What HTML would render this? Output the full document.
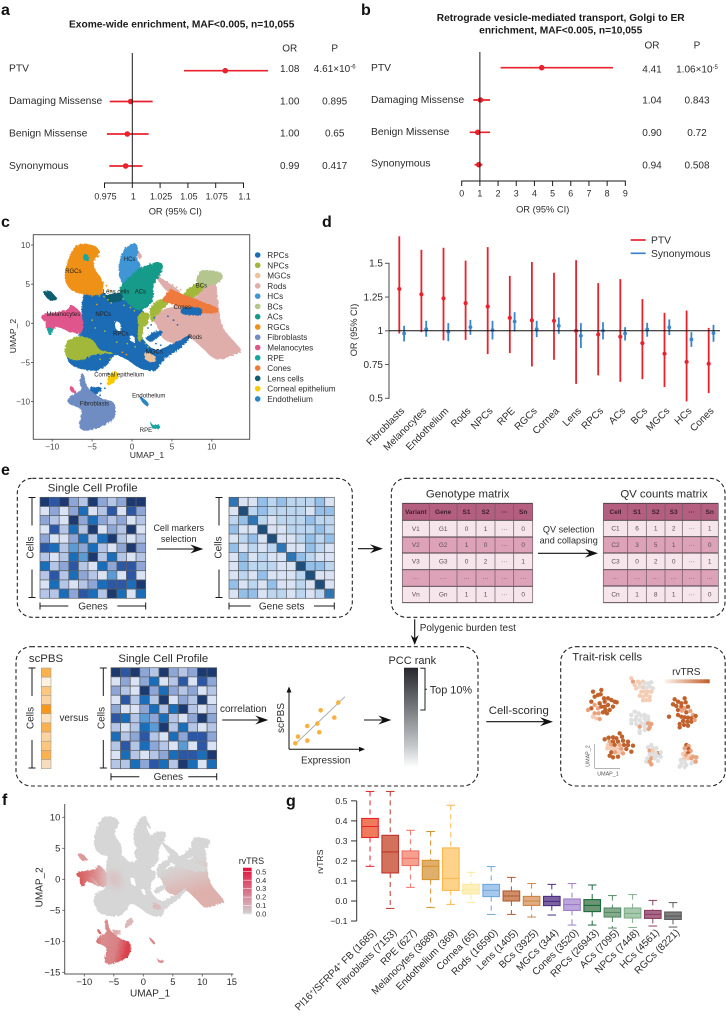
<!DOCTYPE html>
<html lang="en">
<head>
<meta charset="utf-8">
<title>Rare variant enrichment figure</title>
<style>
html,body{margin:0;padding:0;background:#fff;width:726px;height:1019px;overflow:hidden}
svg{display:block}
text{font-family:"Liberation Sans",Arial,sans-serif;fill:#2b2b2b}
.pl{font-size:16px;font-weight:700;fill:#111}
.ti{font-size:10.2px;font-weight:700;fill:#1a1a1a}
</style>
</head>
<body>
<svg id="fig" xmlns="http://www.w3.org/2000/svg" width="726" height="1019" viewBox="0 0 726 1019">
  <defs>
    <filter id="rough" x="-5%" y="-5%" width="110%" height="110%">
      <feTurbulence type="fractalNoise" baseFrequency="0.45" numOctaves="2" seed="4" result="n"/>
      <feDisplacementMap in="SourceGraphic" in2="n" scale="3.2"/>
    </filter>
    <filter id="soft" x="-30%" y="-30%" width="160%" height="160%">
      <feGaussianBlur stdDeviation="3.5"/>
    </filter>
    <linearGradient id="pccGrad" x1="0" y1="0" x2="0" y2="1">
      <stop offset="0" stop-color="#26272c"/><stop offset="0.35" stop-color="#6b6e72"/>
      <stop offset="0.78" stop-color="#c3c7ca"/><stop offset="1" stop-color="#ffffff"/>
    </linearGradient>
    <linearGradient id="rvGrad" x1="0" y1="0" x2="1" y2="0">
      <stop offset="0" stop-color="#fdf4ec"/><stop offset="1" stop-color="#bf5e29"/>
    </linearGradient>
    <linearGradient id="cbarGrad" x1="0" y1="0" x2="0" y2="1">
      <stop offset="0" stop-color="#e0103c"/><stop offset="1" stop-color="#d3d3d3"/>
    </linearGradient>
    <linearGradient id="rodsGrad" x1="0" y1="0" x2="0.35" y2="1">
      <stop offset="0.35" stop-color="#d6d6d6"/><stop offset="0.85" stop-color="#deb0ac"/>
    </linearGradient>
    <linearGradient id="fibGrad" x1="0" y1="0" x2="1" y2="0.3">
      <stop offset="0" stop-color="#d8585c"/><stop offset="0.3" stop-color="#d98d8e"/>
      <stop offset="0.7" stop-color="#d88184"/><stop offset="1" stop-color="#db3f4c"/>
    </linearGradient>
    <linearGradient id="melGrad" x1="0" y1="0" x2="1" y2="0">
      <stop offset="0" stop-color="#d8585a"/><stop offset="0.55" stop-color="#dc8484"/><stop offset="1" stop-color="#dcc0c0"/>
    </linearGradient>
  </defs>

  <rect x="0" y="0" width="726" height="1019" fill="#fff"/>

  <g>
    <text class="pl" x="1" y="15">a</text>
    <text class="pl" x="361" y="15">b</text>
    <text class="pl" x="1" y="227">c</text>
    <text class="pl" x="322" y="227">d</text>
    <text class="pl" x="1" y="475">e</text>
    <text class="pl" x="2" y="805">f</text>
    <text class="pl" x="286" y="806">g</text>
  </g>

  <g id="panelA">
    <text class="ti" x="181.7" y="27.7" text-anchor="middle">Exome-wide enrichment, MAF&lt;0.005, n=10,055</text>
  </g>
  <g id="panelB">
    <text class="ti" x="560.7" y="21" text-anchor="middle">Retrograde vesicle-mediated transport, Golgi to ER</text>
    <text class="ti" x="560.7" y="33.5" text-anchor="middle">enrichment, MAF&lt;0.005, n=10,055</text>
  </g>
  <g id="panelC"></g>
  <g id="panelD"></g>
  <g id="panelE"></g>
  <g id="panelF"></g>
  <g id="panelG"></g>
</svg>

<script>
/* ---------- panel a / b data ---------- */
const forestCategories = ['PTV', 'Damaging Missense', 'Benign Missense', 'Synonymous'];
const aMid = [1.0836, 0.9985, 0.9955, 0.994];
const aLow = [1.0465, 0.9797, 0.9772, 0.9793];
const aHigh = [1.122, 1.0183, 1.0147, 1.0091];
const aOR = ['1.08', '1.00', '1.00', '0.99'];
const aP = ['4.61×10', '0.895', '0.65', '0.417'];
const aPExp = ['-6', '', '', ''];
const aTicks = [0.975, 1, 1.025, 1.05, 1.075, 1.1];
const aTickLabels = ['0.975', '1', '1.025', '1.05', '1.075', '1.1'];
const bMid = [4.40, 1.03, 0.88, 0.94];
const bLow = [2.14, 0.64, 0.44, 0.71];
const bHigh = [8.32, 1.56, 1.56, 1.14];
const bOR = ['4.41', '1.04', '0.90', '0.94'];
const bP = ['1.06×10', '0.843', '0.72', '0.508'];
const bPExp = ['-5', '', '', ''];
const bTicks = [0, 1, 2, 3, 4, 5, 6, 7, 8, 9];
const bTickLabels = ['0', '1', '2', '3', '4', '5', '6', '7', '8', '9'];

/* ---------- panel c / f UMAP hulls (UMAP data units) ---------- */
const hullRods = [[8.9,4.5],[10.4,5.1],[10.8,2.3],[11.4,-0.6],[13.5,-3.2],[13.3,-3.8],[10.6,-4.55],[8.9,-3.2],[7.3,-1.9],[5.6,-2.55],[3.9,-1.9],[3.1,-0.2],[2.5,0.85],[3.9,1.7],[5.6,2.3],[8.1,3.4]];
const hullRodsThin = [[3.1,6.0],[3.9,5.6],[6.0,4.0],[4.5,4.1],[3.5,5.2]];
const hullRodsHc = [[0.7,9.3],[1.2,8.6],[1.0,8.2],[0.6,8.8]];
const hullRpc = [[-5.9,3.8],[-3.6,3.8],[-2.3,2.8],[-0.5,3.0],[1.4,1.5],[1.0,-0.2],[1.4,-2.1],[3.1,-3.4],[5.6,-2.4],[7.3,-1.5],[6.2,-3.0],[3.9,-4.7],[2.9,-6.0],[1.0,-5.7],[-0.5,-4.7],[-2.1,-4.0],[-3.0,-5.1],[-4.4,-6.0],[-6.7,-5.7],[-8.0,-4.7],[-7.6,-2.8],[-6.7,-1.7],[-6.3,-0.6],[-6.3,1.3]];
const hullRpcIsland = [[1.8,-1.9],[2.7,-1.15],[3.7,-1.0],[3.5,-1.5],[2.5,-2.3]];
const hullRpcCones = [[6.4,1.9],[8.5,1.9],[8.5,1.1],[6.4,1.2]];
const hullRpcFib = [[-5.2,-8.2],[-3.8,-8.3],[-4.4,-9.0],[-5.0,-9.0]];
const hullNpcLow = [[-8.4,-3.6],[-8.0,-2.3],[-6.7,-1.7],[-5.05,-2.1],[-4.0,-3.4],[-2.5,-3.8],[-4.85,-4.0],[-6.5,-4.7],[-8.0,-4.4]];
const hullNpcMid = [[0.8,1.1],[2.0,1.3],[2.0,0.2],[1.4,-0.6],[1.2,-2.1],[0.8,-2.1],[0.8,-0.2]];
const hullNpcRight = [[2.3,1.9],[3.5,3.0],[4.8,3.0],[3.9,1.9],[3.1,1.1],[2.5,0.2]];
const hullNpcBc = [[6.4,3.6],[8.1,5.1],[9.0,4.5],[7.5,3.2]];
const hullRgc = [[-6.7,10.0],[-5.05,10.0],[-4.2,9.4],[-4.2,8.7],[-4.8,7.9],[-4.6,6.8],[-3.8,5.5],[-3.8,3.8],[-5.9,3.7],[-7.6,4.3],[-8.3,5.5],[-8.2,7.2],[-7.6,8.9]];
const hullHc = [[-1.5,7.9],[-0.9,9.4],[0.2,10.2],[0.7,9.6],[0.6,8.3],[1.0,7.0],[-0.9,5.1],[-1.6,6.2]];
const hullAc = [[1.0,7.0],[2.9,7.7],[3.8,7.5],[3.5,6.2],[2.7,4.9],[2.5,2.8],[1.0,1.7],[-0.5,2.6],[-1.5,4.0],[-0.9,5.3]];
const hullBc = [[8.1,5.3],[8.7,6.7],[10.6,6.6],[11.3,6.2],[11,5.3],[9.8,4.9],[8.9,4.5]];
const hullCones = [[3.9,3],[4.8,4.25],[6,3.8],[8.1,3],[10.7,1.9],[10.2,1.3],[8.1,1.4],[5.6,2.3],[4.3,2.7]];
const hullMel = [[-11.1,1.05],[-8.2,1.7],[-7.6,2.3],[-6.3,1.05],[-6.3,-1.05],[-7.6,-1.05],[-8.6,0.2],[-10.3,0.2],[-11.1,0.4]];
const hullMelLow = [[-10.7,0.2],[-8.6,0.2],[-7.6,-1.15],[-9.4,-0.4],[-10.3,-1.3]];
const hullMelFib = [[-7.8,-8.1],[-7.4,-8.2],[-7.1,-8.9],[-7.6,-8.7]];
const hullLensTop = [[-11,4.0],[-10.3,4.1],[-9.6,3.4],[-9.4,3.1],[-10.3,3],[-10.9,3.6]];
const hullLensMid = [[-3.2,3.6],[-1.5,3.8],[-1.3,3],[-2.75,2.7]];
const hullMgc = [[1.8,-3.8],[2.9,-4.25],[2.9,-4.8],[2.3,-4.9],[1.6,-4.5]];
const hullCorneal = [[-3,-7],[-2.1,-6.2],[-1.7,-6.8],[-2.1,-7.3],[-3,-7.9]];
const hullFib = [[-6.4,-6.6],[-6.1,-6.6],[-5.5,-8.3],[-3.8,-9.6],[-2.3,-10.2],[-2.3,-12.1],[-4,-13.2],[-5.9,-13.7],[-6.6,-13],[-6.3,-11.1],[-7.9,-10.2],[-7.7,-9.4],[-6.3,-8.5],[-6.5,-7.7]];
const hullEndo = [[1.0,-9.4],[1.4,-9.6],[2.0,-10.2],[1.8,-10.5],[1.2,-9.9]];
const hullRpe = [[2.3,-12.6],[2.6,-13],[3.4,-13.0],[3.3,-13.4],[2.6,-13.4]];
const hullRpeMel = [[-10.5,-0.6],[-10.0,-0.7],[-10.1,-1.4],[-10.4,-1.4]];
const hullRpeRgc = [[-6.0,8.7],[-5.5,8.7],[-5.5,8.1],[-6.0,8.1]];
const hullHoleA = [[-2.1,0.2],[-1.5,0],[-1.4,-1.05],[-2.0,-0.7]];
const hullHoleB = [[-0.2,-1.6],[0.3,-1.8],[0.3,-2.4],[-0.2,-2.2]];
const clusterNames = ['RPCs','NPCs','MGCs','Rods','HCs','BCs','ACs','RGCs','Fibroblasts','Melanocytes','RPE','Cones','Lens cells','Corneal epithelium','Endothelium'];
const clusterColors = ['#1a6cb5','#a2b83b','#ecc39f','#dfaeab','#3f95d4','#b4c58d','#189a8a','#ef9119','#6f8dc3','#e0568c','#16a5a0','#ee7a3d','#0e5d70','#f8cb05','#2a86c5'];
const labelNames = ['HCs','RGCs','Lens cells','ACs','BCs','Cones','Melanocytes','NPCs','RPCs','Rods','MGCs','Corneal epithelium','Endothelium','Fibroblasts','RPE'];
const labelU = [-0.3,-7.35,-2,1.05,8.7,6.3,-8.6,-3.6,-1.4,7.9,2.8,-1.6,2.1,-4.7,1.75];
const labelV = [8.2,6.7,4.05,4.05,4.8,2.05,1.2,1.2,-1.3,-1.75,-3.6,-6.55,-9.2,-10.25,-13.6];
const cTicksU = [-10,-5,0,5,10];
const cTicksV = [10,5,0,-5,-10];
const speckOliveU = [-4.6,-4.1,-3.5,-3.0,-2.6,-1.0,-0.2,0.3,-5.0,-4.6,-3.4,-1.9,-0.6,0.4,-4.0,-2.7,1.7,2.0];
const speckOliveV = [3.9,3.5,3.4,3.0,2.6,2.3,2.0,1.6,0.4,-0.6,-1.0,-2.4,-2.6,-3.0,-4.6,-4.5,-2.6,-3.0];
const speckBlueU = [2.0,2.4,3.0,3.6,4.1,1.6,2.2,-3.9,-3.4,-4.6,-4.0,4.5,5.2,5.7,2.8,-3.0];
const speckBlueV = [-0.6,-0.2,-2.6,-2.8,-3.3,-2.8,-3.5,-7.7,-8.3,-8.9,-9.2,0.9,0.4,-0.2,0.7,-6.4];
const speckOrangeU = [-4.2,-3.6,-3.2,-3.0,-2.6,-5.5,-5.0,-4.4,-1.2,-0.7];
const speckOrangeV = [5.6,5.2,4.8,4.3,4.1,5.0,3.5,2.4,-3.7,-4.0];
const speckPinkU = [3.4,3.9,4.4,5.1,5.6,6.1];
const speckPinkV = [6.0,5.5,5.3,4.9,4.6,4.3];

/* ---------- panel d data ---------- */
const dCategories = ['Fibroblasts','Melanocytes','Endothelium','Rods','NPCs','RPE','RGCs','Cornea','Lens','RPCs','ACs','BCs','MGCs','HCs','Cones'];
const ptvHigh = [1.70,1.60,1.615,1.52,1.62,1.407,1.51,1.43,1.523,1.353,1.383,1.235,1.133,1.15,1.022];
const ptvLow = [0.98,0.99,0.93,0.933,0.827,0.835,0.736,0.785,0.607,0.67,0.622,0.642,0.583,0.477,0.538];
const ptvMid = [1.31,1.27,1.24,1.205,1.18,1.096,1.077,1.074,1.0,0.973,0.956,0.909,0.83,0.77,0.756];
const synHigh = [1.037,1.074,1.057,1.081,1.074,1.138,1.074,1.099,1.057,1.064,1.027,1.059,1.084,0.99,1.044];
const synLow = [0.921,0.956,0.923,0.97,0.936,0.995,0.953,0.978,0.872,0.936,0.928,0.956,0.968,0.881,0.919];
const synMid = [0.98,1.012,0.993,1.027,1.005,1.069,1.012,1.037,0.963,1.0,0.98,1.01,1.025,0.936,0.983];
const dTicks = [0.5,0.75,1,1.25,1.5];
const dTickLabels = ['0.5','0.75','1','1.25','1.5'];

/* ---------- panel e data ---------- */
const profileRows = ['DBDMLDMLMDD','PMPMCPLBPBM','MLPDMCMLMPL','PBLCLDPMLDP','MPPMCLCDLPL','BCLSMCLPMDM','LPLCSDLCLPL','CLMBLPCMBBM','LBLCMLPSPBP','PCLPLMCBBCD','LLCMBCLDCPC'];
const geneSetRows = ['ePPrqrqqqrP','PdqrqqqqPrr','qreqPqqqrqq','rPPdPPqqqrq','PqrPdPPqrqr','rPqPqePPrqP','PrPqPPerqPP','PrqqqPPdrrq','PqPrPPPqdPP','rPqPrPPqPdP','PrrPqqPqPqe'];
const scpbsShades = ['#f9b24d','#fff2df','#fbc77f','#fbd3a0','#f8971b','#fde2c2','#f9b24d','#fbd3a0','#fbc77f','#f9b24d','#f6dcbd'];
const genotypeHeader = ['Variant','Gene','S1','S2','···','Sn'];
const genotypeRows = [['V1','G1','0','1','···','0'],['V2','G2','1','0','···','0'],['V3','G3','0','2','···','1'],['···','···','···','···','···','···'],['Vn','Gn','1','1','···','0']];
const qvHeader = ['Cell','S1','S2','S3','···','Sn'];
const qvRows = [['C1','6','1','2','···','1'],['C2','3','5','1','···','0'],['C3','0','2','0','···','1'],['···','···','···','···','···','···'],['Cn','1','8','1','···','0']];
const expressionValues = [6.3,9,18.3,18.3,28.3,30.3,31.7,45.3,49.3];
const scpbsValues = [6,12.7,8.7,23.3,25.7,17,39,31.7,46.7];
const traitPoints = [
[-1,18,3],[-2,17.5,2],[-1,20,3],[0,21.5,3],[-0.5,23,3],[1,22,3],[2,23.5,3],[1.8,22.2,3],[2.8,21,3],[4,21,3],[5,20.5,3],[6,20,3],[6.6,19.8,3],[3,20,3],[1.5,19.5,3],[0,19,2],[1,18,2],[2,18.5,3],[3,18.5,3],[4,19,3],[4.5,17.5,3],[3.2,17.5,3],[2.5,16.8,3],[3.7,16.5,3],[5.5,18.5,3],[1.2,16.5,2],[0,16.5,2],[-0.5,15.5,1],[0.5,15,1],[1.5,14.8,2],
[11,27,1],[11.5,26,2],[12,25,1],[13,26,1],[13.5,25.5,1],[14.5,26,1],[15,25.5,0],[16,25.5,0],[17,25.8,0],[12.5,24,1],[13.5,24.5,0],[14.5,24.3,1],[15.5,24.2,0],[16.5,24.5,0],[17.5,24,0],[14,23,1],[15,23,1],[16,23,1],[17,23,1],[13.5,21.8,1],[14.5,21.5,1],[15.5,22,1],[16.5,21.5,1],[14.5,20.4,1],[15.5,20.5,1],[16.5,20.5,1],
[27,21,3],[24,20.7,3],[25,20,3],[26,19.5,3],[27.3,19.8,3],[23.5,19.2,3],[24.5,18.7,3],[26,18.5,3],[27,18,2],[28,18.5,3],[25,17.5,3],[26.2,17.3,2],[27.5,16.8,3],[28.7,17.2,2],[29.5,16,2],[30.3,15.7,3],[25,16,3],[26,15.5,3],[27,15.3,3],[28,15.2,3],[29,15,3],[22.3,15.5,3],[26.5,14.2,3],[27.8,14,3],[29,14,3],[30,14.5,2],[25.5,13.3,3],[26.8,13,3],[28,12.8,3],[25.5,12.3,3],
[12,17,0],[13.2,16.5,0],[11,16,0],[12.5,15.5,0],[14,15.8,0],[15,16,0],[16,15.5,0],[11,14.5,0],[12.2,14.5,0],[13.5,14.5,0],[15,14.8,0],[16.2,14.4,0],[11,13.5,0],[12.5,13.3,0],[14,13.5,0],[15.2,13.5,0],[16,13.5,2],[17,13.3,2],[13.5,12.5,2],[15,12.5,0],[16.5,12.3,2],[13.5,11.2,0],[15,11.5,0],[16.2,11.8,2],[13.5,10.6,0],
[7.5,10.5,3],[8.2,9.5,3],[6.5,9,3],[5.5,9.3,3],[4.2,9.2,3],[3,8.7,3],[4.5,8,2],[5.5,8,3],[7,8,3],[8.5,8.3,3],[10,8,3],[4,7,1],[5,7,2],[6,7,3],[7.5,7,2],[8.8,7,3],[10,7,3],[11.5,6.8,3],[3.8,6,1],[5,6,1],[6,5.8,1],[7,6,1],[8,5.8,2],[9.5,5.8,3],[11,5,3],[5,4.8,3],[6.2,4.8,2],[7.5,4.8,1],[4.5,3.8,3],[5.5,3.3,3],[7,3.5,3],[8.5,4.5,2],
[17,7,0],[16,6.3,0],[17.5,6,0],[18.5,6,0],[16.5,5.3,2],[17.5,5.2,1],[19,4.5,3],[18.3,4.6,0],[19.8,4.8,0],[16.5,4.2,0],[17.5,4,0],[18.8,3.7,0],[19.8,3.5,0],[15.8,3,0],[17,3,2],[18,3,0],[15.5,2,0],[16.5,2,2],[19,2.2,0],[17,1.2,2],
[27.5,7,3],[28.2,6.7,2],[27,6,2],[28.2,5.8,3],[28.8,5.2,2],[27.3,5,1],[28,4.5,3],[26.5,4.3,1],[27.5,3.8,2],[28.5,3.8,1],[29.5,3.5,2],[26.8,3,1],[28,3,1],[29,3,2],[30.5,3.3,2],[25.8,2.5,0],[27,2,0],[29.8,2,0],[30.3,2,2],[26,1.3,0],[27.5,1,0],[29,1.5,0],[25.5,0.5,0],[27,0.4,0]];

/* ---------- panel f data ---------- */
const fTicksU = [-10,-5,0,5,10,15];
const fTicksV = [10,5,0,-5,-10,-15];
const colorbarLabels = ['0.5','0.4','0.3','0.2','0.1','0.0'];
const colorbarValues = [0.5,0.4,0.3,0.2,0.1,0.0];
const hullPinkZone = [[-6.0,1.2],[-4.0,1.0],[-3.8,-1.4],[-5.0,-1.2],[-6.0,-1.0]];

/* ---------- panel g data ---------- */
const gCategories = ['FB','Fibroblasts (7153)','RPE (627)','Melanocytes (3689)','Endothelium (369)','Cornea (65)','Rods (16590)','Lens (1405)','BCs (3925)','MGCs (344)','Cones (3520)','RPCs (26943)','ACs (7095)','NPCs (7448)','HCs (4561)','RGCs (8221)'];
const gWhiskerHigh = [0.547,0.547,0.353,0.347,0.478,0.143,0.172,0.118,0.087,0.083,0.087,0.08,0.027,0.032,0.003,-0.008];
const gQ3 = [0.412,0.328,0.25,0.203,0.265,0.083,0.083,0.05,0.023,0.023,0.01,0.007,-0.035,-0.035,-0.047,-0.055];
const gMedian = [0.372,0.245,0.213,0.173,0.113,0.057,0.053,0.025,0,-0.002,-0.018,-0.022,-0.057,-0.062,-0.067,-0.075];
const gQ1 = [0.317,0.14,0.177,0.107,0.053,0.035,0.022,0,-0.022,-0.023,-0.047,-0.053,-0.08,-0.085,-0.087,-0.092];
const gWhiskerLow = [0.173,-0.037,0.068,-0.033,-0.017,-0.007,-0.067,-0.067,-0.08,-0.07,-0.12,-0.12,-0.135,-0.132,-0.125,-0.13];
const gStroke = ['#e8202a','#c0352c','#f07167','#d9922e','#fcb648','#fbe9a0','#6fa8dc','#b5592a','#d08240','#4b2e83','#9a7cc8','#1a6a3e','#4f8a64','#7fae8a','#8c3f5e','#58585a'];
const gFill = ['#f07a5c','#d2725d','#f6a090','#deb06b','#fdd38c','#fdf0bc','#a6c8ec','#cf8d6a','#e0ad82','#7a619f','#bda6dc','#6b9573','#85ab8c','#a8c9ad','#a8688a','#7f7f7f'];
const gTicks = [0.5,0.4,0.3,0.2,0.1,0,-0.1];
const gTickLabels = ['0.5','0.4','0.3','0.2','0.1','0.0','−0.1'];

/* ---------- helpers ---------- */
const NS = 'http://www.w3.org/2000/svg';
function mk(tag, attrs, parent, txt) {
  const el = document.createElementNS(NS, tag);
  for (const k in attrs) el.setAttribute(k, attrs[k]);
  if (txt !== undefined) el.textContent = txt;
  parent.appendChild(el);
  return el;
}
function smoothPath(hull, xf, yf) {
  const p = hull.map(q => [xf(q[0]), yf(q[1])]);
  const n = p.length;
  let d = 'M' + p[0][0].toFixed(2) + ' ' + p[0][1].toFixed(2);
  for (let i = 0; i < n; i++) {
    const p0 = p[(i - 1 + n) % n], p1 = p[i], p2 = p[(i + 1) % n], p3 = p[(i + 2) % n];
    const c1x = p1[0] + (p2[0] - p0[0]) / 6, c1y = p1[1] + (p2[1] - p0[1]) / 6;
    const c2x = p2[0] - (p3[0] - p1[0]) / 6, c2y = p2[1] - (p3[1] - p1[1]) / 6;
    d += 'C' + c1x.toFixed(2) + ' ' + c1y.toFixed(2) + ' ' + c2x.toFixed(2) + ' ' + c2y.toFixed(2) + ' ' + p2[0].toFixed(2) + ' ' + p2[1].toFixed(2);
  }
  return d + 'Z';
}
const RED = '#e8232e';
const BLUE = '#3a86c8';

/* ---------- forest plots ---------- */
function forest(g, cfg) {
  const x = cfg.x;
  cfg.rowsY.forEach((y, i) => {
    const bar = mk('line', {x1: x(cfg.low[i]), x2: x(cfg.high[i]), y1: y, y2: y, stroke: RED, 'stroke-width': 1.7}, g);
    
    
    const pt = mk('circle', {cx: x(cfg.mid[i]), cy: y, r: 2.8, fill: RED}, g);
    
    
    const lab = mk('text', {x: cfg.labelX, y: cfg.labelY[i], 'font-size': 10.3}, g, forestCategories[i]);
    
    
    const or = mk('text', {x: cfg.orX, y: cfg.valY[i], 'font-size': 10, 'text-anchor': 'middle'}, g, cfg.or[i]);
    
    
    const p = mk('text', {x: cfg.pX, y: cfg.valY[i], 'font-size': 10, 'text-anchor': 'middle'}, g, cfg.p[i]);
    
    
    if (cfg.exp[i]) {
      mk('tspan', {dy: -3.5, 'font-size': 6}, p, cfg.exp[i]);
    }
  });
  const vline = mk('line', {x1: x(1), x2: x(1), y1: cfg.top, y2: cfg.axisY, stroke: '#1a1a1a', 'stroke-width': 1}, g);
  
  
  const ax = mk('line', {x1: x(cfg.ticks[0]) - 0.5, x2: x(cfg.ticks[cfg.ticks.length - 1]) + 0.5, y1: cfg.axisY, y2: cfg.axisY, stroke: '#1a1a1a', 'stroke-width': 1}, g);
  
  
  cfg.ticks.forEach((t, i) => {
    const tk = mk('line', {x1: x(t), x2: x(t), y1: cfg.axisY, y2: cfg.axisY + 5, stroke: '#1a1a1a', 'stroke-width': 1}, g);
    
    
    const tl = mk('text', {x: x(t) + cfg.tickShift, y: cfg.tickY, 'font-size': 8.9, 'text-anchor': 'middle'}, g, cfg.tickLabels[i]);
    
    
  });
  const t = mk('text', {x: cfg.titleX, y: cfg.titleY, 'font-size': 9.3, 'text-anchor': 'middle'}, g, 'OR (95% CI)');
  
  
  const h1 = mk('text', {x: cfg.orX, y: cfg.headY, 'font-size': 10, 'text-anchor': 'middle'}, g, 'OR');
  
  
  const h2 = mk('text', {x: cfg.pX, y: cfg.headY, 'font-size': 10, 'text-anchor': 'middle'}, g, 'P');
  
  
}
forest(document.getElementById('panelA'), {
  x: v => 132.3 + (v - 1) * 1112, low: aLow, mid: aMid, high: aHigh, or: aOR, p: aP, exp: aPExp,
  ticks: aTicks, tickLabels: aTickLabels, rowsY: [70.7, 101.5, 134, 166], labelX: 9, labelY: [71.7, 104, 136.7, 169],
  valY: [72, 104.3, 136.7, 169], orX: 289.7, pX: 334.7, headY: 51.7, top: 53, axisY: 183, tickShift: 1, tickY: 199.3,
  titleX: 175.3, titleY: 214.3
});
forest(document.getElementById('panelB'), {
  x: v => 461.7 + v * 18.18, low: bLow, mid: bMid, high: bHigh, or: bOR, p: bP, exp: bPExp,
  ticks: bTicks, tickLabels: bTickLabels, rowsY: [67.7, 100, 132.3, 164.7], labelX: 371, labelY: [71, 103, 135, 166.7],
  valY: [72.7, 103.7, 136, 168.3], orX: 652, pX: 697, headY: 48.3, top: 52, axisY: 181, tickShift: 0, tickY: 196.3,
  titleX: 542.7, titleY: 212.3
});

/* ---------- panel c ---------- */
(function () {
  const g = document.getElementById('panelC');
  const xc = u => 132 + 7.98 * u;
  const yc = v => 323.3 - 7.83 * v;
  const c = {};
  clusterNames.forEach((n, i) => { c[n] = clusterColors[i]; });
  const layers = [
    [hullRods, 'Rods'], [hullRodsThin, 'Rods'], [hullRodsHc, 'Rods'], [hullRpc, 'RPCs'], [hullRpcIsland, 'RPCs'], [hullRpcFib, 'RPCs'],
    [hullNpcLow, 'NPCs'], [hullRgc, 'RGCs'], [hullHc, 'HCs'], [hullAc, 'ACs'], [hullBc, 'BCs'],
    [hullNpcMid, 'NPCs'], [hullNpcRight, 'NPCs'], [hullNpcBc, 'NPCs'], [hullCones, 'Cones'], [hullRpcCones, 'RPCs'],
    [hullMel, 'Melanocytes'], [hullMelLow, 'Melanocytes'], [hullMelFib, 'Melanocytes'], [hullMgc, 'MGCs'], [hullLensTop, 'Lens cells'], [hullLensMid, 'Lens cells'],
    [hullCorneal, 'Corneal epithelium'], [hullFib, 'Fibroblasts'], [hullEndo, 'Endothelium'], [hullRpe, 'RPE'], [hullRpeMel, 'RPE'], [hullRpeRgc, 'RPE']
  ];
  const cloud = mk('g', {filter: 'url(#rough)'}, g);
  
  
  layers.forEach(l => {
    const p = mk('path', {d: smoothPath(l[0], xc, yc), fill: c[l[1]], stroke: c[l[1]], 'stroke-width': 0.6, 'stroke-linejoin': 'round'}, cloud);
    
    
  });
  [hullHoleA, hullHoleB].forEach(h => {
    const p = mk('path', {d: smoothPath(h, xc, yc), fill: '#fff'}, cloud);
    
    
  });
  [[speckOliveU, speckOliveV, 'NPCs'], [speckBlueU, speckBlueV, 'RPCs'], [speckOrangeU, speckOrangeV, 'RGCs'], [speckPinkU, speckPinkV, 'Rods']].forEach(s => {
    s[0].forEach((u, i) => {
      const d = mk('circle', {cx: xc(u), cy: yc(s[1][i]), r: 0.9, fill: c[s[2]]}, g);
      
      
    });
  });
  labelNames.forEach((n, i) => {
    const t = mk('text', {x: xc(labelU[i]), y: yc(labelV[i]) + 2, 'font-size': 6, 'text-anchor': 'middle', style: 'fill:#222'}, g, n);
    
    
  });
  const frame = mk('rect', {x: 33.3, y: 234.7, width: 216.4, height: 204.6, fill: 'none', stroke: '#555', 'stroke-width': 1}, g);
  
  
  cTicksU.forEach(u => {
    const k = mk('line', {x1: xc(u), x2: xc(u), y1: 439.3, y2: 441.5, stroke: '#444', 'stroke-width': 0.8}, g);
    
    
    const t = mk('text', {x: xc(u), y: 449.5, 'font-size': 8.2, 'text-anchor': 'middle', style: 'fill:#444'}, g, String(u).replace('-', '−'));
    
    
  });
  cTicksV.forEach(v => {
    const k = mk('line', {x1: 31, x2: 33.3, y1: yc(v), y2: yc(v), stroke: '#444', 'stroke-width': 0.8}, g);
    
    
    const t = mk('text', {x: 30, y: yc(v) + 3, 'font-size': 8.2, 'text-anchor': 'end', style: 'fill:#444'}, g, String(v).replace('-', '−'));
    
    
  });
  const tx = mk('text', {x: 147, y: 458, 'font-size': 8.6, 'text-anchor': 'middle'}, g, 'UMAP_1');
  
  
  const ty = mk('text', {x: 16, y: 336, 'font-size': 8.6, 'text-anchor': 'middle', transform: 'rotate(-90 16 336)'}, g, 'UMAP_2');
  
  
  clusterNames.forEach((n, i) => {
    const y = 255 + 10.28 * i;
    const d = mk('circle', {cx: 257.7, cy: y, r: 2.8, fill: clusterColors[i]}, g);
    
    
    const t = mk('text', {x: 267.3, y: y + 3, 'font-size': 8.2}, g, n);
    
    
  });
})();

/* ---------- panel d ---------- */
(function () {
  const g = document.getElementById('panelD');
  const xd = i => 399.3 + 22.1 * i;
  const yd = v => 398.3 - (v - 0.5) * 135;
  const axis = mk('line', {x1: 389, x2: 389, y1: yd(1.5) - 0.5, y2: yd(0.5) + 0.5, stroke: '#666', 'stroke-width': 1.2}, g);
  
  
  dTicks.forEach((v, i) => {
    const k = mk('line', {x1: 385, x2: 389, y1: yd(v), y2: yd(v), stroke: '#555', 'stroke-width': 1}, g);
    
    
    const t = mk('text', {x: 383, y: yd(v) + 3.4, 'font-size': 10, 'text-anchor': 'end'}, g, dTickLabels[i]);
    
    
  });
  const yt = mk('text', {x: 357, y: 330, 'font-size': 9.2, 'text-anchor': 'middle', transform: 'rotate(-90 357 330)'}, g, 'OR (95% CI)');
  
  
  dCategories.forEach((name, i) => {
    const a = mk('line', {x1: xd(i), x2: xd(i), y1: yd(ptvHigh[i]), y2: yd(ptvLow[i]), stroke: RED, 'stroke-width': 1.8}, g);
    
    
    const ap = mk('circle', {cx: xd(i), cy: yd(ptvMid[i]), r: 2.1, fill: RED}, g);
    
    
    const b = mk('line', {x1: xd(i) + 4.8, x2: xd(i) + 4.8, y1: yd(synHigh[i]), y2: yd(synLow[i]), stroke: BLUE, 'stroke-width': 1.8}, g);
    
    
    const bp = mk('circle', {cx: xd(i) + 4.8, cy: yd(synMid[i]), r: 1.9, fill: BLUE}, g);
    
    
    const ax = xd(i) + 5.7;
    const ay = 411.5;
    const t = mk('text', {x: ax, y: ay, 'font-size': 10, 'text-anchor': 'end', transform: 'rotate(-45 ' + ax + ' ' + ay + ')'}, g, name);
    
    
  });
  const ref = mk('line', {x1: 389, x2: 720, y1: yd(1), y2: yd(1), stroke: '#111', 'stroke-width': 1}, g);
  
  
  const l1 = mk('line', {x1: 630.7, x2: 645.7, y1: 240, y2: 240, stroke: RED, 'stroke-width': 1.7}, g);
  
  
  const t1 = mk('text', {x: 651, y: 243.5, 'font-size': 10.3}, g, 'PTV');
  
  
  const l2 = mk('line', {x1: 630.7, x2: 645.7, y1: 253.3, y2: 253.3, stroke: BLUE, 'stroke-width': 1.7}, g);
  
  
  const t2 = mk('text', {x: 651, y: 256.8, 'font-size': 10.3}, g, 'Synonymous');
  
  
})();

/* ---------- panel e ---------- */
(function () {
  const g = document.getElementById('panelE');
  const palette = {D:'#1c3a70',B:'#2c57a5',C:'#1a6db8',M:'#8da6d6',L:'#b4c5e6',P:'#dae3f3',S:'#5b9bd5',d:'#1f4e7a',e:'#2e75b6',q:'#bcd6f0',r:'#94bfe8'};

  function dashBox(x, y, w, h) {
    const r = mk('rect', {x: x, y: y, width: w, height: h, rx: 15, ry: 15, fill: 'none', stroke: '#222', 'stroke-width': 1.1, 'stroke-dasharray': '4 2.6'}, g);
    
    
  }
  function arrow(x1, y1, x2, y2) {
    const horiz = y1 === y2;
    const p = horiz
      ? 'M' + x1 + ' ' + (y1 - 0.55) + 'L' + (x2 - 9) + ' ' + (y1 - 0.55) + 'L' + (x2 - 13) + ' ' + (y1 - 4.5) + 'L' + x2 + ' ' + y1 + 'L' + (x2 - 13) + ' ' + (y1 + 4.5) + 'L' + (x2 - 9) + ' ' + (y1 + 0.55) + 'L' + x1 + ' ' + (y1 + 0.55) + 'Z'
      : 'M' + (x1 - 0.55) + ' ' + y1 + 'L' + (x1 - 0.55) + ' ' + (y2 - 7) + 'L' + (x1 - 4) + ' ' + (y2 - 10) + 'L' + x1 + ' ' + y2 + 'L' + (x1 + 4) + ' ' + (y2 - 10) + 'L' + (x1 + 0.55) + ' ' + (y2 - 7) + 'L' + (x1 + 0.55) + ' ' + y1 + 'Z';
    const a = mk('path', {d: p, fill: '#111'}, g);
    
    
  }
  function heat(rows, x, y, w, h) {
    const cw = w / 11, ch = h / rows.length;
    rows.forEach((row, r) => {
      row.split('').forEach((k, c) => {
        const cell = mk('rect', {x: x + c * cw, y: y + r * ch, width: cw, height: ch, fill: palette[k], stroke: '#5a5f68', 'stroke-width': 0.7}, g);
        
        
      });
    });
  }
  function cellsBar(x, yTop, yBot, textX) {
    const mid = (yTop + yBot) / 2;
    [[x, yTop, x, mid - 22], [x, mid + 22, x, yBot], [x - 3.5, yTop, x + 3.5, yTop], [x - 3.5, yBot, x + 3.5, yBot]].forEach(s => {
      const l = mk('line', {x1: s[0], y1: s[1], x2: s[2], y2: s[3], stroke: '#1a1a1a', 'stroke-width': 1}, g);
      
      
    });
    const t = mk('text', {x: textX, y: mid, 'font-size': 10, 'text-anchor': 'middle', transform: 'rotate(-90 ' + textX + ' ' + mid + ')'}, g, 'Cells');
    
    
  }
  function genesBar(x1, x2, y, label, g1, g2, tx) {
    [[x1, y, g1, y], [g2, y, x2, y], [x1, y - 3.5, x1, y + 3.5], [x2, y - 3.5, x2, y + 3.5]].forEach(s => {
      const l = mk('line', {x1: s[0], y1: s[1], x2: s[2], y2: s[3], stroke: '#1a1a1a', 'stroke-width': 1}, g);
      
      
    });
    const t = mk('text', {x: tx, y: y + 3.3, 'font-size': 10, 'text-anchor': 'middle'}, g, label);
    
    
  }
  function caption(txt, x, y, size, anchor) {
    const t = mk('text', {x: x, y: y, 'font-size': size, 'text-anchor': anchor}, g, txt);
    
    
  }
  function table(cols, rowY, header, rows) {
    const fills = ['#f6e6ec', '#dda2b8', '#f6e6ec', '#dda2b8', '#f6e6ec'];
    for (let r = 0; r < 6; r++) {
      const bg = mk('rect', {x: cols[0], y: rowY[r], width: cols[6] - cols[0], height: rowY[r + 1] - rowY[r], fill: r === 0 ? '#b55f80' : fills[r - 1]}, g);
      
      
      const vals = r === 0 ? header : rows[r - 1];
      vals.forEach((v, c) => {
        const t = mk('text', {x: (cols[c] + cols[c + 1]) / 2, y: (rowY[r] + rowY[r + 1]) / 2 + 2.2, 'font-size': 6.5, 'text-anchor': 'middle', 'font-weight': r === 0 ? 700 : 400, style: r === 0 ? 'fill:#3a1f2b' : 'fill:#5a5055'}, g, v);
        
        
      });
    }
    rowY.forEach(y => {
      const l = mk('line', {x1: cols[0], x2: cols[6], y1: y, y2: y, stroke: '#443a40', 'stroke-width': 0.9}, g);
      
      
    });
    cols.forEach(x => {
      const l = mk('line', {x1: x, x2: x, y1: rowY[0], y2: rowY[6], stroke: '#6e5a63', 'stroke-width': 0.7}, g);
      
      
    });
  }

  /* top row */
  dashBox(17.3, 478.3, 335, 139);
  caption('Single Cell Profile', 92.7, 491.7, 11.4, 'middle');
  heat(profileRows, 40, 497.3, 105.7, 101);
  cellsBar(32, 497.5, 597.5, 33.5);
  genesBar(40, 145.7, 606, 'Genes', 68.3, 117.3, 93);
  caption('Cell markers', 178.7, 531, 9, 'middle');
  caption('selection', 178.7, 542, 9, 'middle');
  arrow(157, 549, 203.3, 549);
  heat(geneSetRows, 229, 497.3, 105.3, 101);
  cellsBar(219, 497.5, 597.5, 221.5);
  genesBar(229, 334.3, 606, 'Gene sets', 250.7, 314, 281.7);
  arrow(358, 548.7, 383, 548.7);

  dashBox(391.3, 478.3, 333.7, 139);
  caption('Genotype matrix', 467.7, 497.7, 11.4, 'middle');
  table([402.3, 429.3, 457, 476, 495, 513.7, 532.7], [503.3, 520.3, 537, 553, 569.7, 586.3, 602.7], genotypeHeader, genotypeRows);
  caption('QV counts matrix', 664, 497.7, 11.4, 'middle');
  table([603.3, 627.7, 646.3, 665, 682.3, 701, 718.3], [503.3, 520.3, 536.7, 553, 569.7, 586, 602.7], qvHeader, qvRows);
  caption('QV selection', 568.7, 532.7, 9.1, 'middle');
  caption('and collapsing', 568.7, 543.7, 9.1, 'middle');
  arrow(538, 553.3, 598, 553.3);

  arrow(414.7, 619.3, 414.7, 645);
  caption('Polygenic burden test', 419.7, 631, 10, 'start');

  /* bottom row */
  dashBox(16, 646.7, 462, 139.3);
  caption('scPBS', 46, 662, 11.4, 'middle');
  scpbsShades.forEach((col, i) => {
    const c = mk('rect', {x: 41.3, y: 668 + i * 9.153, width: 9.7, height: 9.153, fill: col, stroke: '#a5a09a', 'stroke-width': 0.6}, g);
    
    
  });
  cellsBar(32, 668, 768, 33.5);
  caption('versus', 74, 721, 9.9, 'middle');
  caption('Single Cell Profile', 163.3, 662, 11.4, 'middle');
  heat(profileRows, 111, 667.7, 105.7, 101);
  cellsBar(103.3, 668, 768, 104.5);
  genesBar(111, 216.7, 776.7, 'Genes', 139.3, 188.3, 168.3);
  caption('correlation', 243.3, 712, 10, 'middle');
  arrow(222.3, 720, 268.3, 720);

  /* mini scatter */
  const sx = v => 289 + v;
  const sy = v => 749.3 - v;
  const scAxis = mk('path', {d: 'M289 749.3H362M289 749.3V690', fill: 'none', stroke: '#111', 'stroke-width': 1}, g);
  
  
  const ah1 = mk('path', {d: 'M289 686.5l-2.5 6h5z', fill: '#111'}, g);
  
  
  const ah2 = mk('path', {d: 'M365 749.3l-6 -2.5v5z', fill: '#111'}, g);
  
  
  const fit = mk('line', {x1: sx(6), y1: sy(5), x2: sx(56), y2: sy(52.6), stroke: '#a8a8a8', 'stroke-width': 1}, g);
  
  
  expressionValues.forEach((v, i) => {
    const d = mk('circle', {cx: sx(v), cy: sy(scpbsValues[i]), r: 2.3, fill: '#f9b040'}, g);
    
    
  });
  const sl = mk('text', {x: 284, y: 718, 'font-size': 10, 'text-anchor': 'middle', transform: 'rotate(-90 284 718)'}, g, 'scPBS');
  
  
  caption('Expression', 325.7, 763.3, 10, 'middle');
  arrow(364, 720, 391.3, 720);

  /* PCC rank */
  caption('PCC rank', 412.3, 664, 11, 'middle');
  const grad = mk('rect', {x: 404, y: 667.7, width: 14, height: 99.6, fill: 'url(#pccGrad)'}, g);
  
  
  const br = mk('path', {d: 'M420.3 668.3H425V710H420.3M425 689.3H427', fill: 'none', stroke: '#222', 'stroke-width': 1}, g);
  
  
  caption('Top 10%', 429.7, 693.3, 10.9, 'start');
  caption('Cell-scoring', 518.8, 714, 11.4, 'middle');
  arrow(486.3, 721.7, 553, 721.7);

  /* trait-risk cells */
  dashBox(560.7, 646.7, 164.5, 139.3);
  caption('Trait-risk cells', 572.3, 660.3, 11.4, 'start');
  caption('rvTRS', 686.3, 675, 10, 'middle');
  const rb = mk('rect', {x: 664.7, y: 679.3, width: 45, height: 4, fill: 'url(#rvGrad)'}, g);
  
  
  const tu = u => 594.67 + 3.333 * u;
  const tv = v => 768.33 - 3.333 * v;
  const shade = ['#dfdfdf', '#f5cdb5', '#e8a37e', '#c1622c'];
  traitPoints.forEach(p => {
    const d = mk('circle', {cx: tu(p[0]), cy: tv(p[1]), r: 2.2, fill: shade[p[2]]}, g);
    
    
  });
  const mini = mk('path', {d: 'M594.7 768.3H620M594.7 768.3V744', fill: 'none', stroke: '#888', 'stroke-width': 0.6}, g);
  
  
  const m1 = mk('text', {x: 608, y: 775.5, 'font-size': 5.4, 'text-anchor': 'middle', style: 'fill:#555'}, g, 'UMAP_1');
  
  
  const m2 = mk('text', {x: 589.5, y: 756, 'font-size': 5.4, 'text-anchor': 'middle', style: 'fill:#555', transform: 'rotate(-90 589.5 756)'}, g, 'UMAP_2');
  
  
})();

/* ---------- panel f ---------- */
(function () {
  const g = document.getElementById('panelF');
  const xf = u => 143.3 + 5.9 * u;
  const yf = v => 879.3 - 6.2 * v;
  const grey = '#d6d6d6';
  const cloud = mk('g', {filter: 'url(#rough)'}, g);
  
  
  const layers = [
    [hullRods, 'url(#rodsGrad)'], [hullRodsThin, grey], [hullRodsHc, grey], [hullRpc, grey], [hullRpcIsland, grey], [hullRpcFib, '#ddb0b0'],
    [hullNpcLow, grey], [hullRgc, grey], [hullHc, grey], [hullAc, grey], [hullBc, grey], [hullNpcMid, grey], [hullNpcRight, grey], [hullNpcBc, grey],
    [hullCones, grey], [hullMel, 'url(#melGrad)'], [hullMelLow, 'url(#melGrad)'], [hullMelFib, '#d9706f'], [hullMgc, '#dcbcbc'], [hullLensTop, '#dd9a9a'],
    [hullCorneal, '#ddb8b8'], [hullFib, 'url(#fibGrad)'], [hullEndo, '#d98a8a'], [hullRpe, '#d98a8a']
  ];
  layers.forEach(l => {
    const p = mk('path', {d: smoothPath(l[0], xf, yf), fill: l[1]}, cloud);
    
    
  });
  const zone = mk('path', {d: smoothPath(hullPinkZone, xf, yf), fill: '#ddb4b4', opacity: 0.55, filter: 'url(#soft)'}, g);
  
  
  [hullHoleA, hullHoleB].forEach(h => {
    const p = mk('path', {d: smoothPath(h, xf, yf), fill: '#fff'}, cloud);
    
    
  });
  const ax = mk('path', {d: 'M64.7 804V974H233.3', fill: 'none', stroke: '#555', 'stroke-width': 1}, g);
  
  
  fTicksU.forEach(u => {
    const k = mk('line', {x1: xf(u), x2: xf(u), y1: 974, y2: 976.5, stroke: '#555', 'stroke-width': 0.8}, g);
    
    
    const t = mk('text', {x: xf(u), y: 985, 'font-size': 9.4, 'text-anchor': 'middle'}, g, String(u).replace('-', '−'));
    
    
  });
  fTicksV.forEach(v => {
    const k = mk('line', {x1: 62.2, x2: 64.7, y1: yf(v), y2: yf(v), stroke: '#555', 'stroke-width': 0.8}, g);
    
    
    const t = mk('text', {x: 60.3, y: yf(v) + 3.3, 'font-size': 9.4, 'text-anchor': 'end'}, g, String(v).replace('-', '−'));
    
    
  });
  const tx = mk('text', {x: 150, y: 996.7, 'font-size': 10, 'text-anchor': 'middle'}, g, 'UMAP_1');
  
  
  const ty = mk('text', {x: 42.5, y: 887.3, 'font-size': 10, 'text-anchor': 'middle', transform: 'rotate(-90 42.5 887.3)'}, g, 'UMAP_2');
  
  
  const lt = mk('text', {x: 238.7, y: 864, 'font-size': 9}, g, 'rvTRS');
  
  
  const cb = mk('rect', {x: 243, y: 867.7, width: 8.7, height: 46.6, fill: 'url(#cbarGrad)'}, g);
  
  
  const yb = v => 914 - v * 84.6;
  colorbarValues.forEach((v, i) => {
    const k = mk('line', {x1: 243, x2: 251.7, y1: yb(v), y2: yb(v), stroke: '#fff', 'stroke-width': 0.5}, g);
    
    
    const t = mk('text', {x: 256, y: yb(v) + 2.6, 'font-size': 7.4}, g, colorbarLabels[i]);
    
    
  });
})();

/* ---------- panel g ---------- */
(function () {
  const g = document.getElementById('panelG');
  const xg = i => 370 + 20.2 * i;
  const yg = v => 901 - v * 200.3;
  const ax = mk('line', {x1: 356.7, x2: 356.7, y1: yg(0.5), y2: yg(-0.1), stroke: '#333', 'stroke-width': 1}, g);
  
  
  gTicks.forEach((v, i) => {
    const k = mk('line', {x1: 351, x2: 356.7, y1: yg(v), y2: yg(v), stroke: '#333', 'stroke-width': 1}, g);
    
    
    const t = mk('text', {x: 347.5, y: yg(v) + 3, 'font-size': 8.7, 'text-anchor': 'end'}, g, gTickLabels[i]);
    
    
  });
  const yt = mk('text', {x: 323, y: 861.7, 'font-size': 8.6, 'text-anchor': 'middle', transform: 'rotate(-90 323 861.7)'}, g, 'rvTRS');
  
  
  gCategories.forEach((name, i) => {
    const x = xg(i);
    const col = gStroke[i];
    const wh = mk('line', {x1: x, x2: x, y1: yg(gWhiskerHigh[i]), y2: yg(gQ3[i]), stroke: col, 'stroke-width': 1, 'stroke-dasharray': '5 4'}, g);
    
    
    const wl = mk('line', {x1: x, x2: x, y1: yg(gQ1[i]), y2: yg(gWhiskerLow[i]), stroke: col, 'stroke-width': 1, 'stroke-dasharray': '5 4'}, g);
    
    
    const c1 = mk('line', {x1: x - 4.3, x2: x + 4.3, y1: yg(gWhiskerHigh[i]), y2: yg(gWhiskerHigh[i]), stroke: col, 'stroke-width': 1}, g);
    
    
    const c2 = mk('line', {x1: x - 4.3, x2: x + 4.3, y1: yg(gWhiskerLow[i]), y2: yg(gWhiskerLow[i]), stroke: col, 'stroke-width': 1}, g);
    
    
    const box = mk('rect', {x: x - 8.3, y: yg(gQ3[i]), width: 16.6, height: yg(gQ1[i]) - yg(gQ3[i]), fill: gFill[i], stroke: col, 'stroke-width': 1.1}, g);
    
    
    const med = mk('line', {x1: x - 8.3, x2: x + 8.3, y1: yg(gMedian[i]), y2: yg(gMedian[i]), stroke: col, 'stroke-width': 1.1}, g);
    
    
    const ax2 = x + 7;
    const ay = 933;
    const t = mk('text', {x: ax2, y: ay, 'font-size': 10, 'text-anchor': 'end', transform: 'rotate(-45 ' + ax2 + ' ' + ay + ')'}, g);
    
    
    if (i === 0) {
      mk('tspan', {}, t, 'PI16');
      mk('tspan', {dy: -3, 'font-size': 6.5}, t, '+');
      mk('tspan', {dy: 3}, t, '/SFRP4');
      mk('tspan', {dy: -3, 'font-size': 6.5}, t, '+');
      mk('tspan', {dy: 3}, t, ' FB (1685)');
    } else {
      t.textContent = name;
    }
  });
})();
</script>
</body>
</html>
